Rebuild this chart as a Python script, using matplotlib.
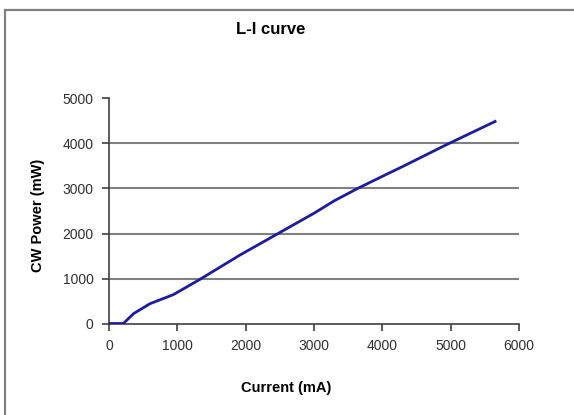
import matplotlib
matplotlib.use("Agg")
import matplotlib.pyplot as plt
from matplotlib.patches import Rectangle

plt.rcParams['font.family'] = ['Liberation Sans', 'DejaVu Sans']

# L-I curve data
current_ma = [0, 210, 360, 600, 940, 1330, 1915, 2475, 3000, 3300, 3650, 4000, 4300, 4920, 5650]
power_mw = [0, 0, 220, 440, 640, 980, 1520, 2000, 2450, 2730, 3010, 3270, 3490, 3960, 4490]

x_ticks = [0, 1000, 2000, 3000, 4000, 5000, 6000]
y_ticks = [0, 1000, 2000, 3000, 4000, 5000]
grid_levels = [1000, 2000, 3000, 4000]

W, H = 574, 415
fig = plt.figure(figsize=(W / 100, H / 100), dpi=100)

# outer chart border (runs past right/bottom of the image)
fig.patches.append(Rectangle((5 / W, -0.05), 1.1, 1 - 10 / H + 0.05,
                             transform=fig.transFigure, fill=False,
                             edgecolor='#808080', linewidth=1.6))

ax = fig.add_axes([109 / W, 1 - 323.5 / H, 410 / W, 225 / H])

for g in grid_levels:
    ax.axhline(g, color='#808080', linewidth=1.5, zorder=1)

ax.plot(current_ma, power_mw, color='#1C1CA0', linewidth=2, zorder=3)

ax.set_xlim(0, 6000)
ax.set_ylim(0, 5000)
ax.set_xticks(x_ticks)
ax.set_yticks(y_ticks)
ax.tick_params(direction='out', length=5, width=1.2, color='#404040',
               labelsize=10, labelcolor='#303030', pad=6)

for side in ['top', 'right']:
    ax.spines[side].set_visible(False)
for side in ['left', 'bottom']:
    ax.spines[side].set_color('#404040')
    ax.spines[side].set_linewidth(1.2)

fig.text(271 / W, 1 - 29 / H, 'L-I curve', ha='center', va='center',
         fontsize=12, fontweight='bold')
fig.text(286 / W, 1 - 388 / H, 'Current (mA)', ha='center', va='center',
         fontsize=10.5, fontweight='bold')
fig.text(38 / W, 1 - 215 / H, 'CW Power (mW)', ha='center', va='center',
         rotation=90, fontsize=10.5, fontweight='bold')

fig.savefig('out.png', dpi=100)
